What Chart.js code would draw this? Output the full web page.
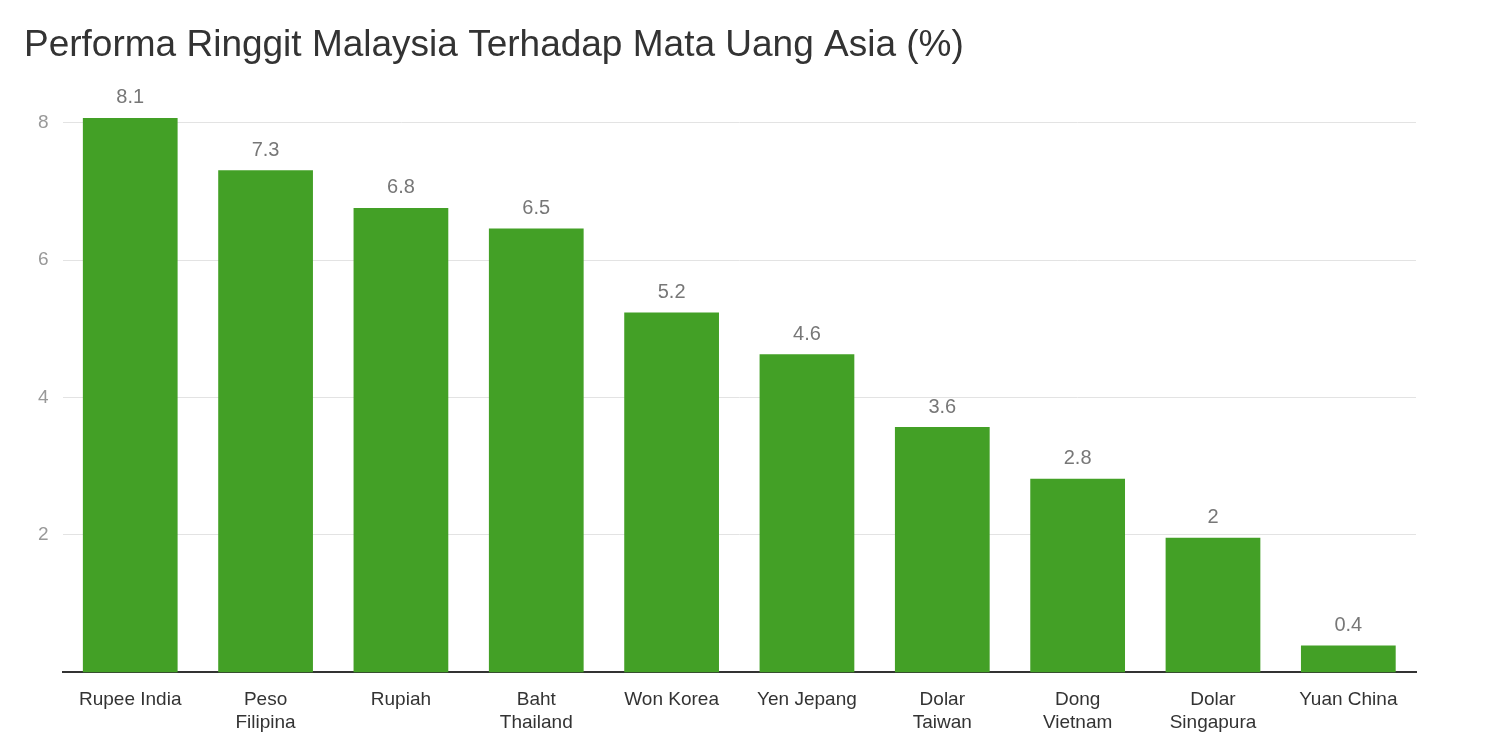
<!DOCTYPE html>
<html><head><meta charset="utf-8">
<script src="https://cdn.jsdelivr.net/npm/chart.js@4"></script>
<style>html,body{margin:0;padding:0;background:#fff}#w{width:1502px;height:752px}</style>
</head><body><div id="w"><canvas id="c"></canvas></div>
<script>
const categories = [["Rupee India"],["Peso","Filipina"],["Rupiah"],["Baht","Thailand"],["Won Korea"],["Yen Jepang"],["Dolar","Taiwan"],["Dong","Vietnam"],["Dolar","Singapura"],["Yuan China"]];
const values = [8.07, 7.31, 6.76, 6.46, 5.24, 4.63, 3.57, 2.82, 1.96, 0.39];
const yTicks = [2, 4, 6, 8];

const labelPlugin = {
  id: 'vals',
  afterDatasetsDraw(chart) {
    const ctx = chart.ctx;
    const meta = chart.getDatasetMeta(0);
    ctx.save();
    ctx.font = '20px Arial, "Liberation Sans", sans-serif';
    ctx.fillStyle = '#777';
    ctx.textAlign = 'center';
    ctx.textBaseline = 'bottom';
    meta.data.forEach((b, i) => {
      ctx.fillText(String(Number(values[i].toFixed(1))), b.x, b.y - 10);
    });
    ctx.restore();
  }
};

new Chart(document.getElementById('c'), {
  type: 'bar',
  data: { labels: categories, datasets: [{ data: values, backgroundColor: '#43a026', barPercentage: 0.7, categoryPercentage: 1 }] },
  plugins: [labelPlugin],
  options: {
    responsive: true, maintainAspectRatio: false, animation: false,
    layout: { padding: { left: 24, right: 86, top: 0, bottom: 10 } },
    plugins: {
      legend: { display: false }, tooltip: { enabled: false },
      title: { display: true, text: 'Performa Ringgit Malaysia Terhadap Mata Uang Asia (%)', align: 'start',
        color: '#333', font: { family: 'Arial, "Liberation Sans", sans-serif', size: 37, weight: 'normal' },
        padding: { top: 24, bottom: 20 } }
    },
    scales: {
      y: {
        min: 0, max: 8.5,
        afterBuildTicks(s) { s.ticks = yTicks.map(v => ({ value: v })); },
        ticks: { color: '#999', font: { family: 'Arial, "Liberation Sans", sans-serif', size: 19 }, padding: 14 },
        grid: { color: '#e3e3e3', drawTicks: false },
        border: { display: false }
      },
      x: {
        ticks: { color: '#333', font: { family: 'Arial, "Liberation Sans", sans-serif', size: 19 }, maxRotation: 0, autoSkip: false, padding: 8 },
        grid: { display: false },
        border: { display: true, color: '#333', width: 2 }
      }
    }
  }
});
</script></body></html>
